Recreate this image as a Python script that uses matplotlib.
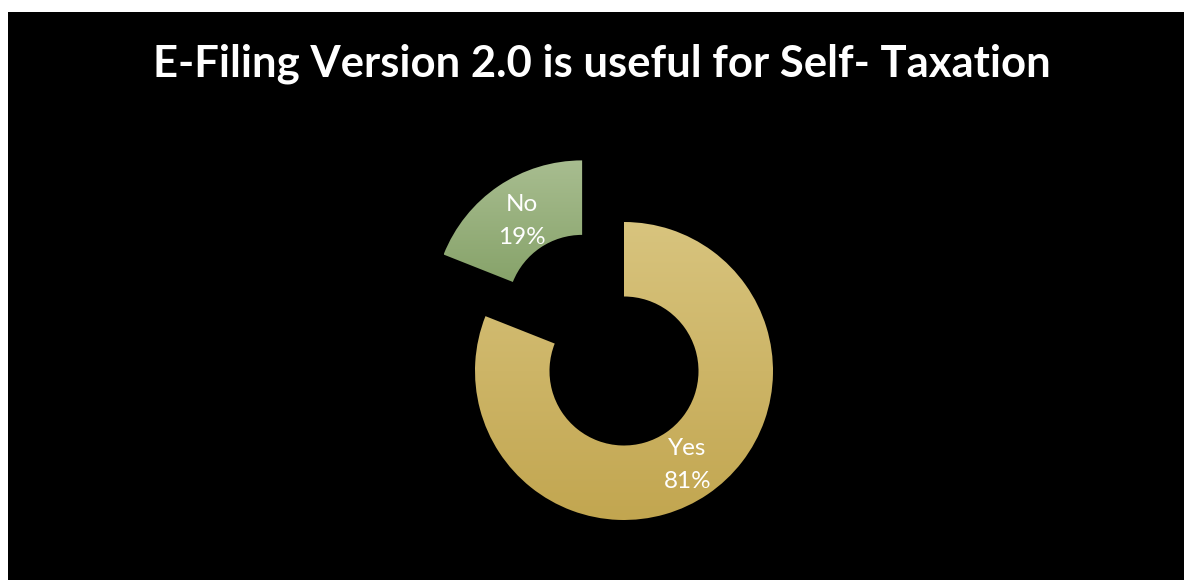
import matplotlib.pyplot as plt
import matplotlib.patches as mpatches
import numpy as np
from matplotlib.colors import LinearSegmentedColormap

# data
labels = ['Yes', 'No']
values = [81, 19]
# vertical gradients (top, bottom) for each slice
grads = [('#d8c47e', '#c2a650'), ('#a8bd90', '#87a36a')]

W, H = 1184, 580
fig = plt.figure(figsize=(W / 100, H / 100), dpi=100)
fig.patch.set_facecolor('white')
fig.patches.append(mpatches.Rectangle((8 / W, 0), 1.1, (H - 12) / H, transform=fig.transFigure,
                                      facecolor='black', edgecolor='none', zorder=-5))

# axes in pixel units
ax = fig.add_axes([0, 0, 1, 1], zorder=2)
ax.patch.set_visible(False)

r = 149
cx, cy = 624, H - 371
explode = [0, 0.5 * r]
lab_dist = [0.76, 0.72]

wedges, texts, autotexts = ax.pie(
    values, labels=None, startangle=90, counterclock=False, radius=r, center=(cx, cy),
    explode=explode, wedgeprops=dict(width=0.5 * r, edgecolor='none'),
    autopct=lambda p: '', pctdistance=0.76, frame=True)
ax.set_xlim(0, W)
ax.set_ylim(0, H)
ax.set_aspect('equal')
ax.axis('off')

for w, (top, bot), lab, t, v, d in zip(wedges, grads, labels, autotexts, values, lab_dist):
    w.set_facecolor('none')
    ext = w.get_path().get_extents(w.get_patch_transform())
    x0, y0, x1, y1 = ext.x0, ext.y0, ext.x1, ext.y1
    cmap = LinearSegmentedColormap.from_list('g', [bot, top])
    grad = np.linspace(0, 1, 256).reshape(-1, 1)
    im = ax.imshow(grad, cmap=cmap, origin='lower', extent=(x0, x1, y0, y1),
                   aspect='auto', zorder=1)
    im.set_clip_path(w)
    # label along the middle angle of the slice
    th = np.deg2rad((w.theta1 + w.theta2) / 2)
    wx, wy = w.center
    t.set_position((wx + d * r * np.cos(th), wy + d * r * np.sin(th)))
    t.set_text(f'{lab}\n{v}%')
    t.set_color('white')
    t.set_fontsize(17.5)
    t.set_family('Lato')
    t.set_linespacing(1.7)
    t.set_zorder(3)

ax.set_xlim(0, W)
ax.set_ylim(0, H)

fig.text(602 / W, 1 - 64 / H, 'E-Filing Version 2.0 is useful for Self- Taxation',
         color='white', fontsize=31.4, fontweight='bold', family='Lato',
         ha='center', va='center')

fig.savefig('out.png', dpi=100, facecolor=fig.get_facecolor())
